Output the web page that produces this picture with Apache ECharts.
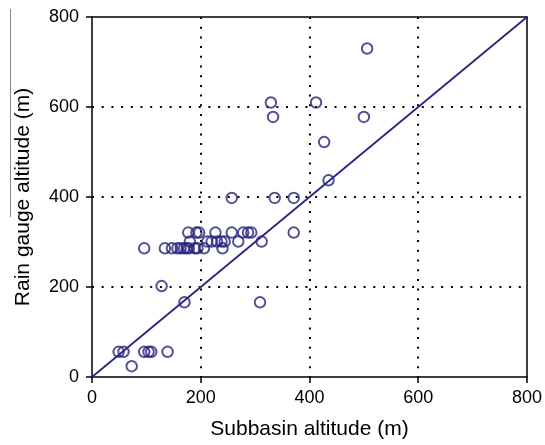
<!DOCTYPE html>
<html>
<head>
<meta charset="utf-8">
<script src="https://cdn.jsdelivr.net/npm/echarts@6/dist/echarts.min.js"></script>
<style>html,body{margin:0;padding:0;background:#fff}#c{width:545px;height:445px}</style>
</head>
<body>
<div id="c"></div>
<script>
const subbasinAltitude = [
  506, 329, 412, 333, 500, 427, 435,
  257, 336, 371, 371,
  177, 192, 197, 227, 257, 278, 287, 293,
  180, 212, 220, 230, 238, 244, 269, 312,
  96, 134, 147, 157, 163, 169, 174, 178, 189, 194, 206, 240,
  128, 170, 309,
  49, 58, 96, 104, 109, 139,
  73
];
const gaugeAltitude = [
  730, 610, 610, 578, 578, 522, 437,
  398, 398, 398, 321,
  321, 321, 321, 321, 321, 321, 321, 321,
  301, 301, 301, 301, 301, 301, 301, 301,
  286, 286, 286, 286, 286, 286, 286, 286, 286, 286, 286, 286,
  202, 166, 166,
  56, 56, 56, 56, 56, 56,
  24
];
const oneToOneLine = [[0, 0], [800, 800]];
const tickValues = [0, 200, 400, 600, 800];

const navy = '#282480';
const font = 'Liberation Sans, Arial, sans-serif';
const chart = echarts.init(document.getElementById('c'), null, {renderer: 'canvas'});
const pts = subbasinAltitude.map((x, i) => [x, gaugeAltitude[i]]);
const dotted = {show: true, showMinLine: false, showMaxLine: false, lineStyle: {color: '#000', width: 2, type: [2, 7.7]}};
const frameAxis = {
  type: 'value', min: 0, max: 800, interval: 200,
  axisLine: {show: true, onZero: false, lineStyle: {color: '#000', width: 1.5}},
  axisTick: {show: false}, axisLabel: {show: false}, splitLine: {show: false}
};
chart.setOption({
  animation: false,
  grid: {left: 92, right: 17, top: 17, bottom: 67},
  xAxis: [{
    type: 'value', min: 0, max: 800, interval: 200, position: 'bottom',
    name: 'Subbasin altitude (m)', nameLocation: 'middle', nameGap: 42,
    nameTextStyle: {fontFamily: font, fontSize: 21, color: '#000'},
    axisLine: {show: true, onZero: false, lineStyle: {color: '#000', width: 1.5}},
    axisTick: {show: true, inside: false, length: 6, lineStyle: {color: '#000', width: 1.5}},
    axisLabel: {fontFamily: font, fontSize: 18, color: '#000', margin: 12, formatter: v => tickValues.includes(v) ? String(v) : ''},
    splitLine: dotted
  }, Object.assign({position: 'top'}, frameAxis)],
  yAxis: [{
    type: 'value', min: 0, max: 800, interval: 200, position: 'left',
    name: 'Rain gauge altitude (m)', nameLocation: 'middle', nameGap: 58,
    nameTextStyle: {fontFamily: font, fontSize: 21, color: '#000'},
    axisLine: {show: true, onZero: false, lineStyle: {color: '#000', width: 1.5}},
    axisTick: {show: true, inside: false, length: 6, lineStyle: {color: '#000', width: 1.5}},
    axisLabel: {fontFamily: font, fontSize: 18, color: '#000', margin: 13, formatter: v => tickValues.includes(v) ? String(v) : ''},
    splitLine: dotted
  }, Object.assign({position: 'right'}, frameAxis)],
  graphic: [{
    type: 'line', shape: {x1: 10.5, y1: 9, x2: 10.5, y2: 217},
    style: {stroke: '#8a8a8a', lineWidth: 1}, silent: true
  }],
  series: [
    {
      type: 'line', data: oneToOneLine, symbol: 'none', silent: true,
      lineStyle: {color: navy, width: 1.8}, z: 3
    },
    {
      type: 'scatter', data: pts, symbol: 'circle', symbolSize: 10.5,
      itemStyle: {color: 'rgba(255,255,255,0)', borderColor: navy, borderWidth: 2}, z: 4
    }
  ]
});
</script>
</body>
</html>
